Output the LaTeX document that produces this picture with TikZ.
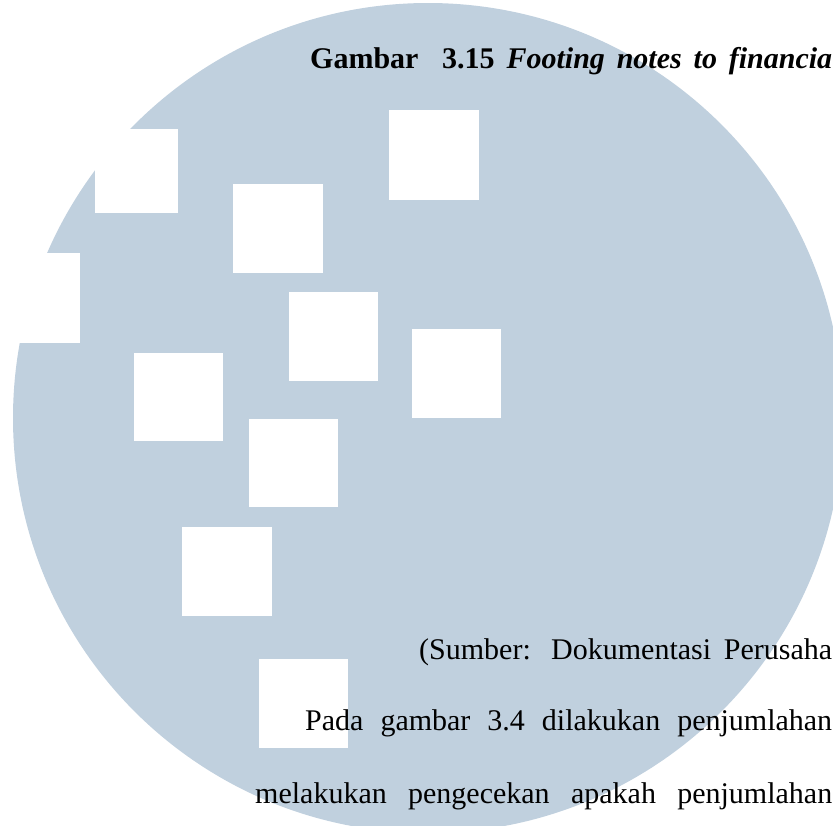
\documentclass[tikz,border=0pt]{standalone}
\usepackage{fontspec}
\setmainfont{Liberation Serif}
\usepackage{tikz}

\definecolor{logoblue}{RGB}{192,208,222}
\tikzset{
  textline/.style={anchor=base west, inner sep=0pt, font=\fontsize{30}{36}\selectfont},
}

\begin{document}
\begin{tikzpicture}[x=1pt,y=-1pt]
\useasboundingbox (0,0) rectangle (833,825);
\clip (0,0) rectangle (833,825);

% logo disc
\fill[logoblue] (428,418) circle (415pt);

% white blocks
\foreach \xa/\ya/\xb/\yb in {95/129/178/213, 233/184/323/273, -10/253/80/343,
    134/353/223/441, 249/419/338/507, 182/527/272/616, 289/292/378/381,
    389/110/479/200, 412/329/501/418, 259/659/348/748}
  \fill[white] (\xa,\ya) rectangle (\xb,\yb);

\node[textline] (title) at (310,68) {\makebox[522pt][s]{\bfseries Gambar\ \ 3.15 \itshape Footing notes to financia}};

\node[textline] (sumber) at (419,659) {\makebox[413pt][s]{(Sumber: Dokumentasi Perusaha}};
\node[textline] (pada) at (305,730) {\makebox[527pt][s]{Pada gambar 3.4 dilakukan penjumlahan}};
\node[textline] (cek) at (255,803) {\makebox[577pt][s]{melakukan pengecekan apakah penjumlahan}};

\end{tikzpicture}
\end{document}
